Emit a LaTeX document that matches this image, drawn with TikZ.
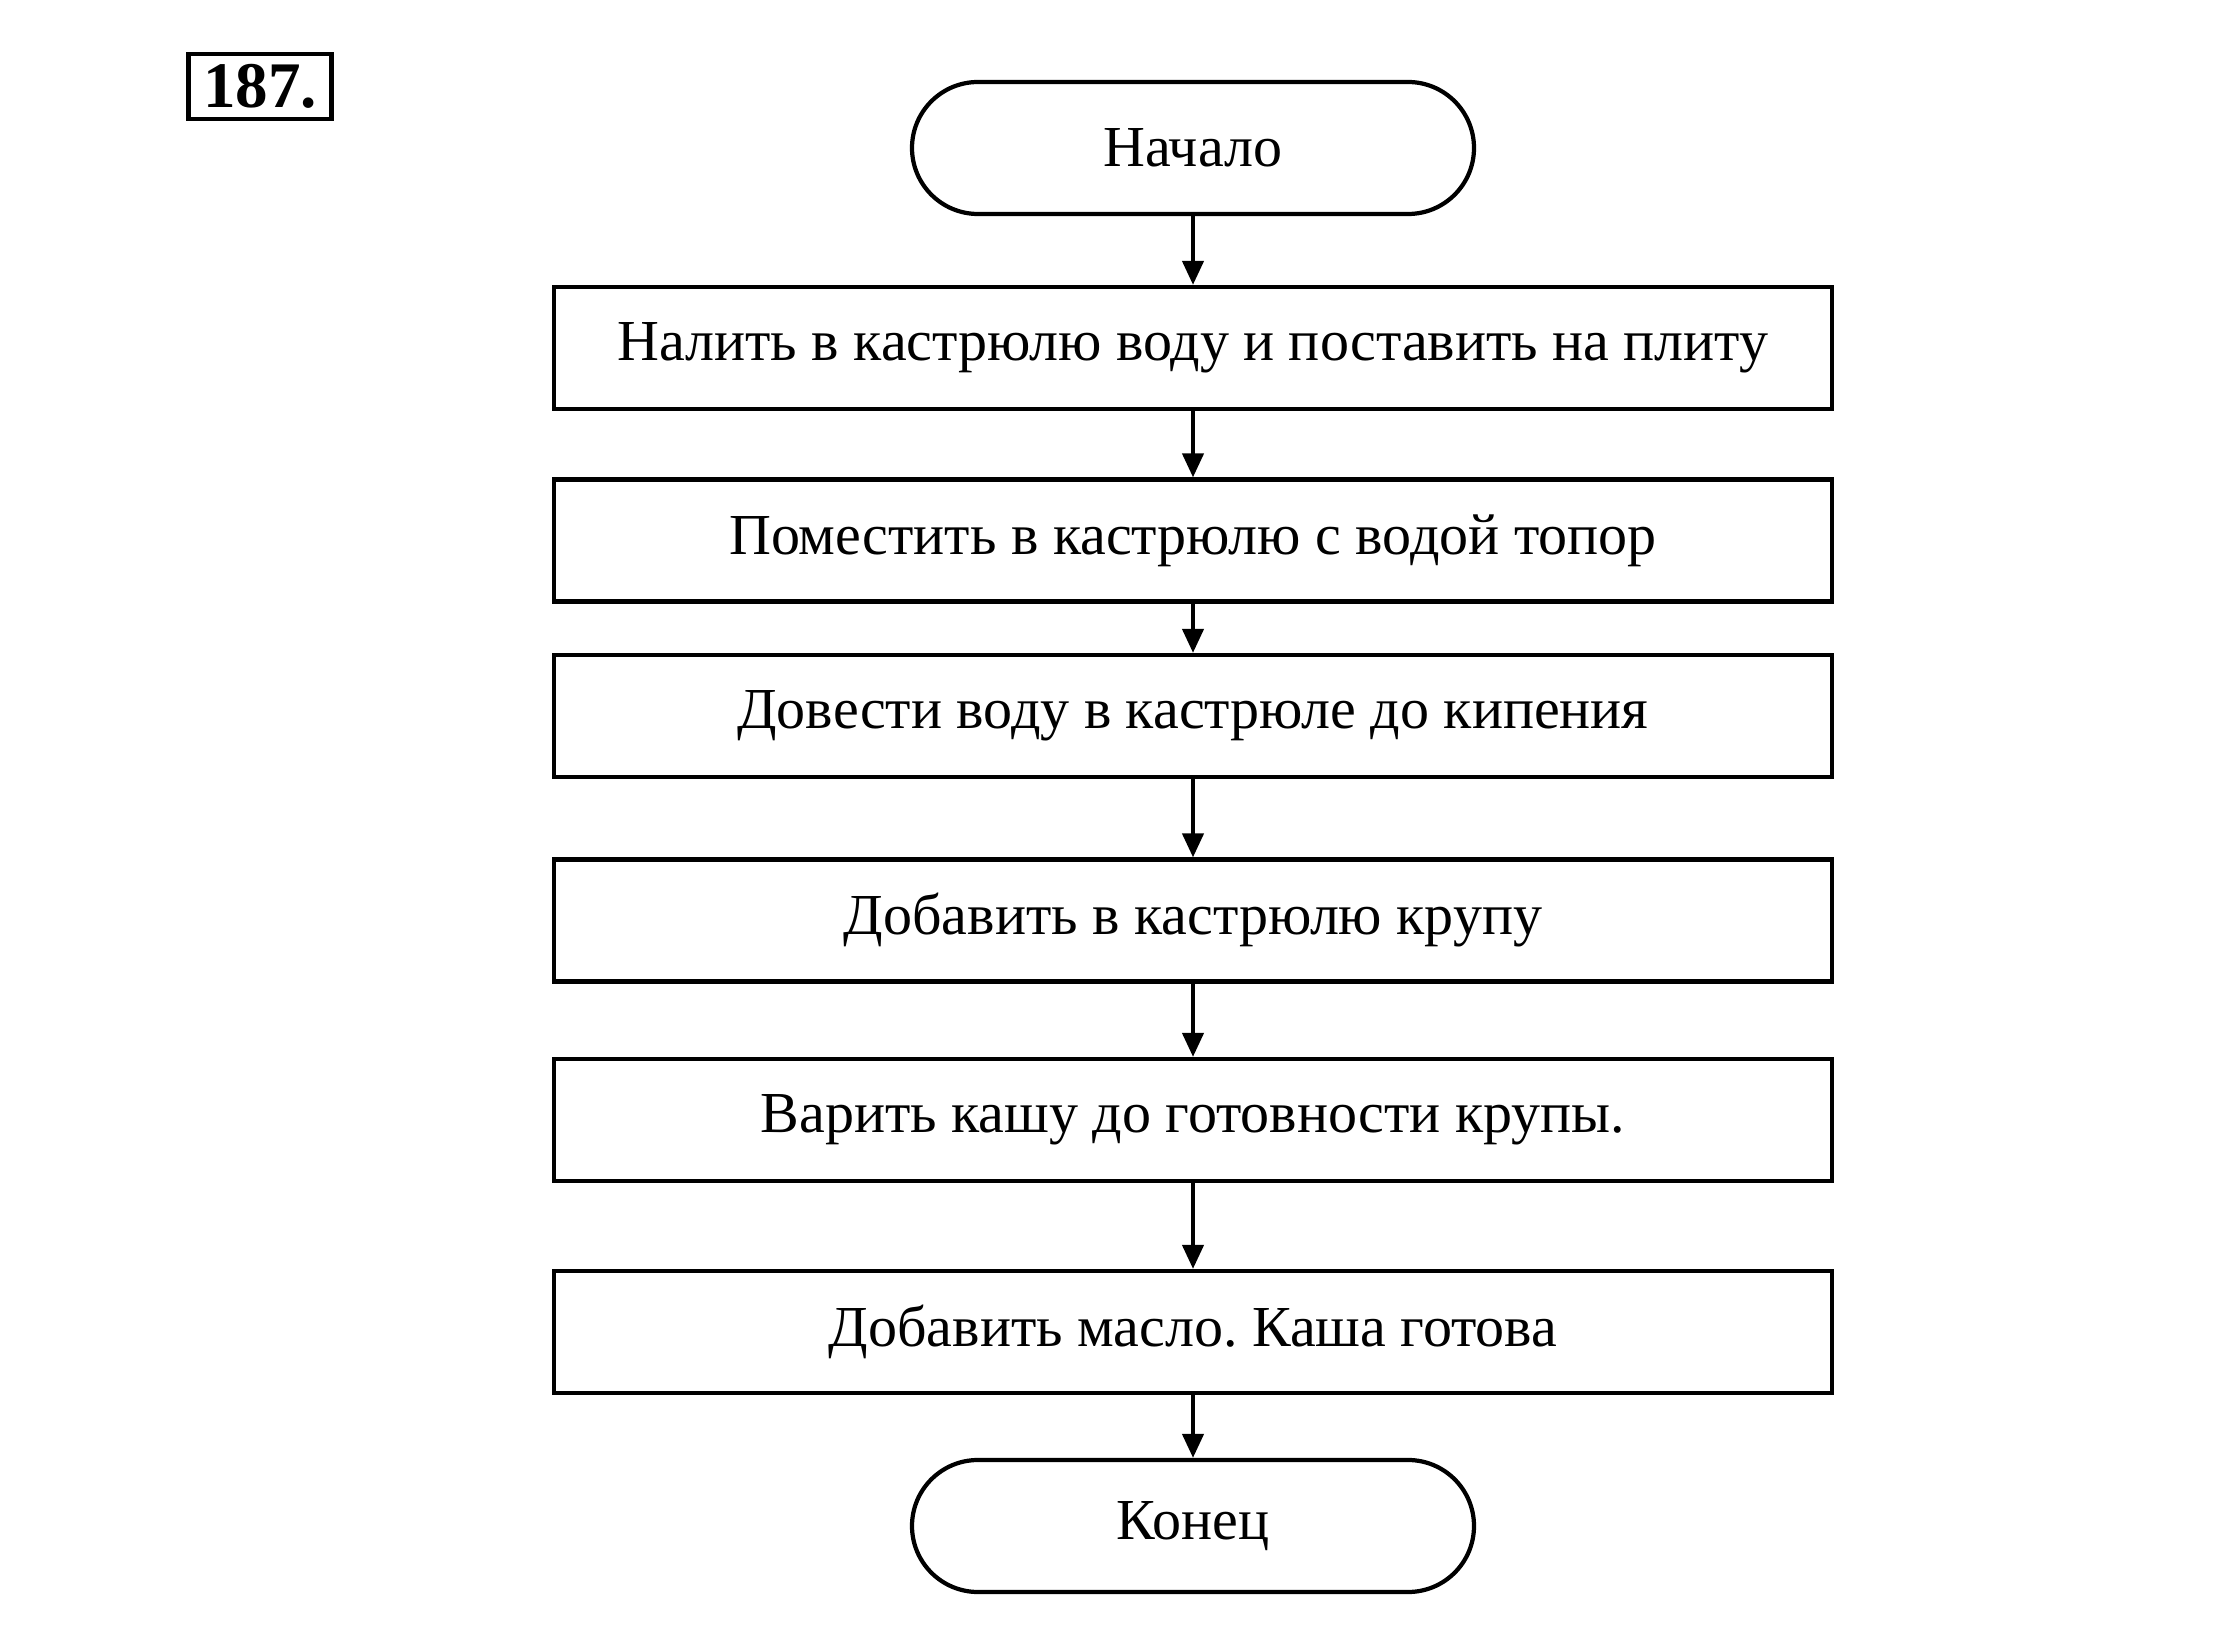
\documentclass[tikz,border=0pt]{standalone}
\usepackage{fontspec}
\setmainfont{Liberation Serif}
\frenchspacing
\usetikzlibrary{arrows.meta}

\begin{document}
\begin{tikzpicture}[terminal/.style = {
                        rectangle, rounded corners=6.6mm,
                        draw, line width=1.2pt,
                        minimum width=5.62cm,
                        minimum height=1.32cm,
                        font=\fontsize{16.5}{19}\selectfont
                      },
                      action/.style = {
                        rectangle,
                        draw, line width=1.2pt,
                        minimum width=12.78cm,
                        minimum height=1.22cm,
                        font=\fontsize{16.5}{19}\selectfont
                      },
                      number/.style = {
                        rectangle,
                        draw, line width=1.3pt,
                        minimum width=1.43cm,
                        minimum height=0.65cm,
                        inner sep=0mm,
                        font=\fontsize{18.5}{20}\selectfont\bfseries
                      },
                      flow/.style = {
                        line width=1.2pt,
                        -{Triangle[length=2.4mm, width=2.1mm]}
                      }]
    \useasboundingbox (0,0) rectangle (22.22,-16.52);

    \node[number] (num) at (2.60,-0.865) {187.};

    \node[terminal] (start) at (11.93,-1.48) {Начало};
    \node[action] (fill) at (11.93,-3.48) {Налить в кастрюлю воду и поставить на плиту};
    \node[action] (axe) at (11.93,-5.405) {Поместить в кастрюлю с водой топор};
    \node[action] (boil) at (11.93,-7.16) {Довести воду в кастрюле до кипения};
    \node[action] (grain) at (11.93,-9.205) {Добавить в кастрюлю крупу};
    \node[action] (cook) at (11.93,-11.20) {Варить кашу до готовности крупы.};
    \node[action] (butter) at (11.93,-13.32) {Добавить масло. Каша готова};
    \node[terminal] (stop) at (11.93,-15.26) {Конец};

    \draw[flow] (start) -- (fill);
    \draw[flow] (fill) -- (axe);
    \draw[flow] (axe) -- (boil);
    \draw[flow] (boil) -- (grain);
    \draw[flow] (grain) -- (cook);
    \draw[flow] (cook) -- (butter);
    \draw[flow] (butter) -- (stop);
\end{tikzpicture}
\end{document}
